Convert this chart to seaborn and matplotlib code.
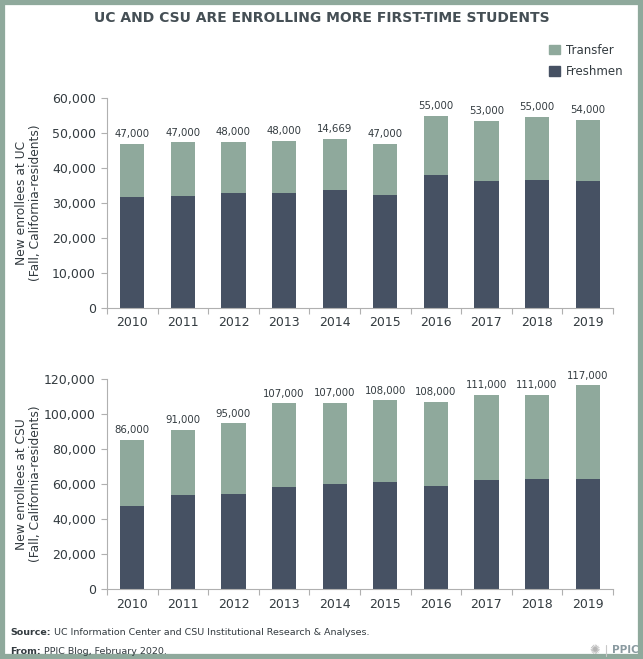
import numpy as np
import pandas as pd
import matplotlib
matplotlib.use("Agg")
import matplotlib.pyplot as plt
import seaborn as sns
from matplotlib.patches import Rectangle, Patch
from matplotlib.ticker import FuncFormatter, FixedLocator

years = ["2010", "2011", "2012", "2013", "2014", "2015", "2016", "2017", "2018", "2019"]

# UC (Fall, California residents)
uc_freshmen = [31700, 31900, 32800, 32900, 33700, 32300, 38000, 36100, 36600, 36100]
uc_total = [46900, 47200, 47400, 47600, 48300, 46800, 54800, 53300, 54500, 53700]
uc_labels = ["47,000", "47,000", "48,000", "48,000", "14,669", "47,000",
             "55,000", "53,000", "55,000", "54,000"]

# CSU (Fall, California residents)
csu_freshmen = [47700, 54000, 54600, 58600, 60300, 61200, 58900, 62400, 62900, 63100]
csu_total = [85200, 90900, 94700, 106100, 106300, 107800, 107000, 110900, 110900, 116400]
csu_labels = ["86,000", "91,000", "95,000", "107,000", "107,000", "108,000",
              "108,000", "111,000", "111,000", "117,000"]

transfer_col = "#8fa99c"
fresh_col = "#465163"
text_col = "#333b40"
axis_col = "#b0b0b0"

sns.set_theme(style="white")
plt.rcParams["font.family"] = ["DejaVu Sans"]

fig = plt.figure(figsize=(6.43, 6.59), dpi=100)
ax1 = fig.add_axes([0.1664, 0.5331, 0.7869, 0.3187])
ax2 = fig.add_axes([0.1664, 0.1058, 0.7869, 0.3191])


def draw_panel(ax, freshmen, total, labels, ymax, step, ylabel):
    df = pd.DataFrame({"year": years, "freshmen": freshmen, "total": total})
    sns.barplot(data=df, x="year", y="total", color=transfer_col, width=0.48,
                saturation=1, linewidth=0, ax=ax)
    sns.barplot(data=df, x="year", y="freshmen", color=fresh_col, width=0.48,
                saturation=1, linewidth=0, ax=ax)
    for i, (t, lab) in enumerate(zip(total, labels)):
        ax.text(i, t + ymax * 0.022, lab, ha="center", va="bottom",
                fontsize=7.3, color=text_col)
    ax.set_xlim(-0.5, 9.5)
    ax.set_ylim(0, ymax)
    ax.set_yticks(np.arange(0, ymax + 1, step))
    ax.yaxis.set_major_formatter(FuncFormatter(lambda v, p: f"{int(v):,}"))
    ax.set_xlabel("")
    ax.set_ylabel(ylabel, fontsize=8.8, color=text_col, linespacing=1.1)
    ax.yaxis.set_label_coords(-0.128, 0.5)
    ax.xaxis.set_minor_locator(FixedLocator(np.arange(-0.5, 10, 1)))
    ax.tick_params(axis="x", which="major", length=0, labelsize=9, colors=text_col, pad=6)
    ax.tick_params(axis="x", which="minor", length=4, color=axis_col, width=0.8,
                   direction="out", bottom=True)
    ax.tick_params(axis="y", length=4, color=axis_col, width=0.8, labelsize=9,
                   colors=text_col, left=True, pad=4)
    for s in ["top", "right"]:
        ax.spines[s].set_visible(False)
    for s in ["left", "bottom"]:
        ax.spines[s].set_color(axis_col)
        ax.spines[s].set_linewidth(0.8)


draw_panel(ax1, uc_freshmen, uc_total, uc_labels, 60000, 10000,
           "New enrollees at UC\n(Fall, California-residents)")
draw_panel(ax2, csu_freshmen, csu_total, csu_labels, 120000, 20000,
           "New enrollees at CSU\n(Fall, California-residents)")

# title
fig.text(0.5, 0.972, "UC AND CSU ARE ENROLLING MORE FIRST-TIME STUDENTS",
         ha="center", va="center", fontsize=10, color="#454f55", fontweight="bold")

# legend
handles = [Patch(color=transfer_col, label="Transfer"),
           Patch(color=fresh_col, label="Freshmen")]
fig.legend(handles=handles, loc="upper left", bbox_to_anchor=(0.838, 0.95),
           frameon=False, fontsize=8.5, handlelength=0.9, handleheight=0.9,
           handletextpad=0.5, labelspacing=0.75, labelcolor=text_col)

# footer: bold lead word followed by plain text
fig.canvas.draw()
renderer = fig.canvas.get_renderer()
for y, lead, rest in [(0.040, "Source:", "UC Information Center and CSU Institutional Research & Analyses."),
                      (0.012, "From:", "PPIC Blog, February 2020.")]:
    t = fig.text(0.016, y, lead, ha="left", va="center", fontsize=6.8,
                 color=text_col, fontweight="bold")
    bb = t.get_window_extent(renderer)
    fig.text((bb.x1 + 3) / fig.bbox.width, y, rest, ha="left", va="center",
             fontsize=6.8, color=text_col)

fig.text(0.925, 0.013, "✺", ha="center", va="center", fontsize=9, color="#b5b5b5")
fig.lines.append(plt.Line2D([0.943, 0.943], [0.004, 0.022], transform=fig.transFigure,
                            color="#c8c8c8", linewidth=0.8))
fig.text(0.952, 0.013, "PPIC", ha="left", va="center", fontsize=7.5,
         color="#8a9aa0", fontweight="bold")

# frame around the whole graphic
fig.patches.append(Rectangle((0.003, 0.003), 0.994, 0.994, transform=fig.transFigure,
                             fill=False, edgecolor=transfer_col, linewidth=4.5))

fig.savefig("out.png", dpi=100)
